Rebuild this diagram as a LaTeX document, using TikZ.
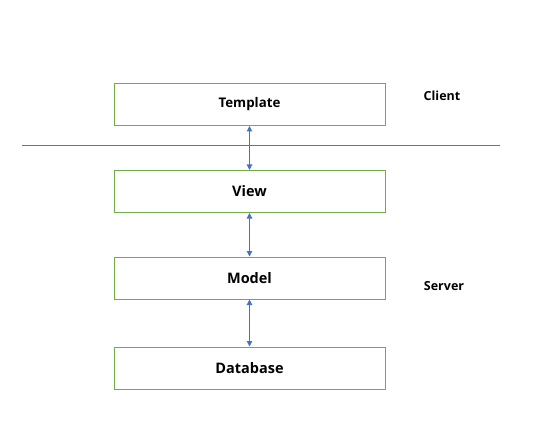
\documentclass[tikz,border=0pt]{standalone}
\usepackage{fontspec}
\setmainfont{Open Sans}
\usetikzlibrary{arrows.meta}
\definecolor{boxgreen}{HTML}{70AD47}
\definecolor{linkblue}{HTML}{4472C4}
\begin{document}
\begin{tikzpicture}[x=1pt,y=-1pt,
  layer/.style={draw=boxgreen,line width=1pt,minimum width=271pt,minimum height=42pt,inner sep=0pt,font=\bfseries\fontsize{14.5}{17}\selectfont},
  link/.style={draw=linkblue,line width=1.1pt,{Triangle[width=5.5pt,length=5.5pt]}-{Triangle[width=5.5pt,length=5.5pt]}},
  side/.style={font=\bfseries\fontsize{12.5}{15}\selectfont}]
\useasboundingbox (0,0) rectangle (543,422);
\node[layer,font=\bfseries\fontsize{13.3}{16}\selectfont] (tpl) at (249.5,104.5) {Template};
\node[layer] (view) at (249.5,191.5) {View};
\node[layer] (model) at (249.5,278) {Model};
\node[layer] (db) at (249.5,368) {Database};
\coordinate (sepL) at (22,145.5);
\coordinate (sepR) at (500,145.5);
\draw[draw=linkblue!70!gray,line width=0.8pt] (sepL) -- (sepR);
\draw[link] (tpl.south) -- (view.north);
\draw[link] (view.south) -- (model.north);
\draw[link] (model.south) -- (db.north);
\node[side] (client) at (442,96) {Client};
\node[side] (server) at (444,286) {Server};
\end{tikzpicture}
\end{document}
